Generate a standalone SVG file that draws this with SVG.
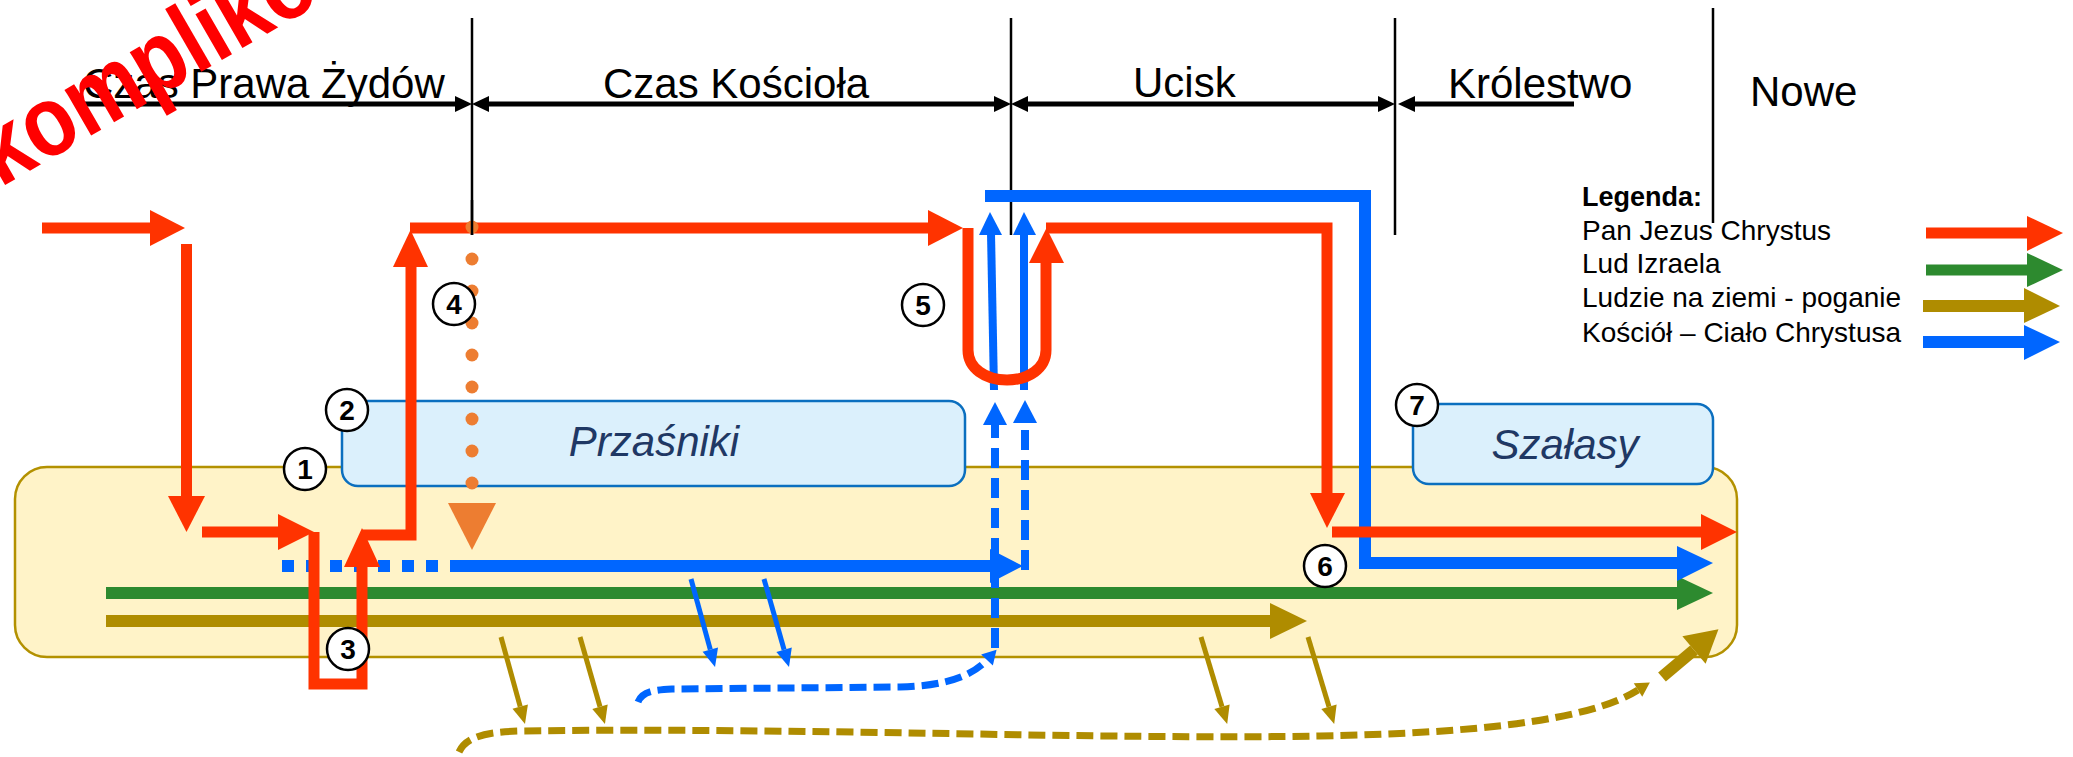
<svg xmlns="http://www.w3.org/2000/svg" width="2073" height="757" viewBox="0 0 2073 757">
<style>
  text { font-family: "Liberation Sans", Arial, sans-serif; }
  .hdr { font-size: 42px; fill: #000; }
  .leg { font-size: 28px; fill: #000; }
  .legb { font-size: 27px; font-weight: bold; fill: #000; }
  .box { fill: #DBF0FC; stroke: #0B6FBF; stroke-width: 2.5; }
  .boxlbl { font-size: 42px; font-style: italic; fill: #1F3864; text-anchor: middle; }
  .num circle { fill: #fff; stroke: #000; stroke-width: 2.5; }
  .num text { font-size: 28px; font-weight: bold; text-anchor: middle; fill: #000; }
  .tl { stroke: #000; stroke-width: 5; fill: none; }
  .vl { stroke: #000; stroke-width: 2.5; fill: none; }
  .red { stroke: #FF3300; stroke-width: 11; fill: none; }
  .redf { fill: #FF3300; }
  .blue { stroke: #0066FF; stroke-width: 12; fill: none; }
  .bluet { stroke: #0066FF; stroke-width: 8; fill: none; }
  .bluef { fill: #0066FF; }
  .green { stroke: #2D8A2F; stroke-width: 12; fill: none; }
  .greenf { fill: #2D8A2F; }
  .olive { stroke: #AF8C00; stroke-width: 12; fill: none; }
  .olivef { fill: #AF8C00; }
  .dot { fill: #ED7D31; }
</style>
<defs>
  <marker id="hBlue" markerUnits="userSpaceOnUse" markerWidth="18" markerHeight="16" viewBox="0 -8 18 16" refX="0" refY="0" orient="auto" overflow="visible">
    <path d="M0,-8 L18,0 L0,8 z" fill="#0066FF"/>
  </marker>
  <marker id="hOlive" markerUnits="userSpaceOnUse" markerWidth="18" markerHeight="16" viewBox="0 -8 18 16" refX="0" refY="0" orient="auto" overflow="visible">
    <path d="M0,-8 L18,0 L0,8 z" fill="#AF8C00"/>
  </marker>
  <marker id="hBlueS" markerUnits="userSpaceOnUse" markerWidth="14" markerHeight="16" viewBox="0 -8 14 16" refX="0" refY="0" orient="auto" overflow="visible">
    <path d="M0,-8 L14,0 L0,8 z" fill="#0066FF"/>
  </marker>
  <marker id="hOliveS" markerUnits="userSpaceOnUse" markerWidth="14" markerHeight="16" viewBox="0 -8 14 16" refX="0" refY="0" orient="auto" overflow="visible">
    <path d="M0,-8 L14,0 L0,8 z" fill="#AF8C00"/>
  </marker>
  <marker id="hOliveL" markerUnits="userSpaceOnUse" markerWidth="32" markerHeight="36" viewBox="0 -18 32 36" refX="0" refY="0" orient="auto" overflow="visible">
    <path d="M0,-18 L32,0 L0,18 z" fill="#AF8C00"/>
  </marker>
</defs>

<!-- background region: people on earth -->
<g id="earth">
  <rect x="15" y="467" width="1722" height="190" rx="32" ry="32" fill="#FFF3C8" stroke="#B39100" stroke-width="2.5"/>
</g>

<g id="przasniki">
  <rect class="box" x="342" y="401" width="623" height="85" rx="16" ry="16"/>
  <text class="boxlbl" x="654" y="456">Przaśniki</text>
</g>
<g id="szalasy">
  <rect class="box" x="1413" y="404" width="300" height="80" rx="16" ry="16"/>
  <text class="boxlbl" x="1565" y="459">Szałasy</text>
</g>

<!-- timeline -->
<g id="timeline">
  <line class="vl" x1="472" y1="18" x2="472" y2="235"/>
  <line class="vl" x1="1011" y1="18" x2="1011" y2="235"/>
  <line class="vl" x1="1395" y1="18" x2="1395" y2="235"/>
  <line class="vl" x1="1713" y1="8" x2="1713" y2="223"/>
  <line class="tl" x1="78" y1="104" x2="457" y2="104"/>
  <polygon points="455,96 472,104 455,112"/>
  <line class="tl" x1="487" y1="104" x2="996" y2="104"/>
  <polygon points="489,96 472,104 489,112"/>
  <polygon points="994,96 1011,104 994,112"/>
  <line class="tl" x1="1026" y1="104" x2="1380" y2="104"/>
  <polygon points="1028,96 1011,104 1028,112"/>
  <polygon points="1378,96 1395,104 1378,112"/>
  <line class="tl" x1="1412" y1="104" x2="1574" y2="104"/>
  <polygon points="1415,96 1398,104 1415,112"/>
  <text class="hdr" x="83" y="98">Czas Prawa Żydów</text>
  <text class="hdr" x="603" y="98">Czas Kościoła</text>
  <text class="hdr" x="1133" y="97">Ucisk</text>
  <text class="hdr" x="1448" y="98">Królestwo</text>
  <text class="hdr" x="1750" y="106">Nowe</text>
</g>

<g id="connectors">
  <!-- Israel -->
  <line class="green" x1="106" y1="593" x2="1679" y2="593"/>
  <polygon class="greenf" points="1677,576 1713,593 1677,610"/>
  <!-- gentiles -->
  <line class="olive" x1="106" y1="621" x2="1272" y2="621"/>
  <polygon class="olivef" points="1270,603 1307,621 1270,639"/>

  <!-- church -->
  <line class="blue" x1="282" y1="566" x2="438" y2="566" stroke-dasharray="12 12"/>
  <line class="blue" x1="450" y1="566" x2="992" y2="566"/>
  <polygon class="bluef" points="990,549 1023,566 990,583"/>
  <path class="bluet" d="M995,648 V425" stroke-dasharray="20 10"/>
  <polygon class="bluef" points="983,425 1007,425 995,402"/>
  <path class="bluet" d="M1025,570 V423" stroke-dasharray="20 10"/>
  <polygon class="bluef" points="1013,423 1037,423 1025,400"/>
  <line class="bluet" x1="994" y1="390" x2="991" y2="233"/>
  <polygon class="bluef" points="979,235 1002,235 990,212"/>
  <line class="bluet" x1="1024" y1="390" x2="1024" y2="233"/>
  <polygon class="bluef" points="1013,235 1036,235 1024,212"/>
  <path class="blue" d="M985,196 H1365 V563 H1679" stroke-linejoin="miter"/>
  <polygon class="bluef" points="1677,546 1713,563 1677,581"/>
  <line x1="691" y1="579" x2="710.3" y2="649.6" stroke="#0066FF" stroke-width="5" marker-end="url(#hBlue)"/>
  <line x1="764" y1="579" x2="784.1" y2="649.7" stroke="#0066FF" stroke-width="5" marker-end="url(#hBlue)"/>
  <path d="M638,702 C642,692 652,690 672,689 L900,687 C945,686 972,676 987,660" fill="none" stroke="#0066FF" stroke-width="7" stroke-dasharray="17 7" marker-end="url(#hBlueS)"/>

  <!-- gentiles scattered -->
  <line x1="501" y1="637" x2="520.2" y2="706.6" stroke="#AF8C00" stroke-width="5" marker-end="url(#hOlive)"/>
  <line x1="580" y1="637" x2="600" y2="706.7" stroke="#AF8C00" stroke-width="5" marker-end="url(#hOlive)"/>
  <line x1="1201" y1="637" x2="1222" y2="706.7" stroke="#AF8C00" stroke-width="5" marker-end="url(#hOlive)"/>
  <line x1="1308" y1="637" x2="1329" y2="706.7" stroke="#AF8C00" stroke-width="5" marker-end="url(#hOlive)"/>
  <path d="M459,752 C466,737 485,732 520,731 C800,727 1100,740 1320,736 C1480,733 1590,720 1638,690" fill="none" stroke="#AF8C00" stroke-width="7" stroke-dasharray="17 7" marker-end="url(#hOliveS)"/>
  <line x1="1662" y1="677" x2="1694" y2="650" stroke="#AF8C00" stroke-width="12" marker-end="url(#hOliveL)"/>

  <!-- Jesus -->
  <line class="red" x1="42" y1="228" x2="152" y2="228"/>
  <polygon class="redf" points="150,210 185,228 150,246"/>
  <line class="red" x1="186.5" y1="244" x2="186.5" y2="498"/>
  <polygon class="redf" points="168,496 205,496 186.5,532"/>
  <line class="red" x1="202" y1="532" x2="280" y2="532"/>
  <polygon class="redf" points="278,514 314,532 278,550"/>
  <path class="red" d="M314,532 V684 H362 V565"/>
  <polygon class="redf" points="344,567 380,567 362,528"/>
  <path class="red" d="M362,535 H411 V265"/>
  <polygon class="redf" points="393,267 428,267 410.5,230"/>
  <line class="red" x1="410" y1="228" x2="930" y2="228"/>
  <!-- dotted line of grace (4) -->
  <g id="dots">
    <circle class="dot" cx="472" cy="227" r="6.5"/>
    <circle class="dot" cx="472" cy="259" r="6.5"/>
    <circle class="dot" cx="472" cy="291" r="6.5"/>
    <circle class="dot" cx="472" cy="323" r="6.5"/>
    <circle class="dot" cx="472" cy="355" r="6.5"/>
    <circle class="dot" cx="472" cy="387" r="6.5"/>
    <circle class="dot" cx="472" cy="419" r="6.5"/>
    <circle class="dot" cx="472" cy="451" r="6.5"/>
    <circle class="dot" cx="472" cy="483" r="6.5"/>
    <polygon class="dot" points="448,503 496,503 472,550"/>
  </g>
  <polygon class="redf" points="928,210 963,228 928,246"/>
  <path class="red" d="M968,228 V350 C968,368 985,380 1007,380 C1029,380 1046,368 1046,350 V261"/>
  <polygon class="redf" points="1029,263 1064,263 1046.5,228"/>
  <path class="red" d="M1046,228 H1327 V495"/>
  <polygon class="redf" points="1310,493 1345,493 1327,528"/>
  <line class="red" x1="1332" y1="532" x2="1703" y2="532"/>
  <polygon class="redf" points="1701,514 1737,532 1701,550"/>
</g>
<line class="vl" x1="472" y1="200" x2="472" y2="235"/>

<g id="n1" class="num"><circle cx="305" cy="469" r="21"/><text x="305" y="479">1</text></g>
<g id="n2" class="num"><circle cx="347" cy="410" r="21"/><text x="347" y="420">2</text></g>
<g id="n3" class="num"><circle cx="348" cy="649" r="21"/><text x="348" y="659">3</text></g>
<g id="n4" class="num"><circle cx="454" cy="304" r="21"/><text x="454" y="314">4</text></g>
<g id="n5" class="num"><circle cx="923" cy="305" r="21"/><text x="923" y="315">5</text></g>
<g id="n6" class="num"><circle cx="1325" cy="566" r="21"/><text x="1325" y="576">6</text></g>
<g id="n7" class="num"><circle cx="1417" cy="405" r="21"/><text x="1417" y="415">7</text></g>

<g id="legend">
  <text class="legb" x="1582" y="206">Legenda:</text>
  <text class="leg" x="1582" y="240">Pan Jezus Chrystus</text>
  <text class="leg" x="1582" y="273">Lud Izraela</text>
  <text class="leg" x="1582" y="307">Ludzie na ziemi - poganie</text>
  <text class="leg" x="1582" y="342">Kościół – Ciało Chrystusa</text>
  <line x1="1926" y1="233" x2="2029" y2="233" stroke="#FF3300" stroke-width="11"/>
  <polygon class="redf" points="2027,216 2063,233 2027,251"/>
  <line x1="1926" y1="270" x2="2029" y2="270" stroke="#2D8A2F" stroke-width="11"/>
  <polygon class="greenf" points="2027,253 2063,270 2027,287"/>
  <line x1="1923" y1="306" x2="2026" y2="306" stroke="#AF8C00" stroke-width="12"/>
  <polygon class="olivef" points="2024,288 2060,306 2024,323"/>
  <line x1="1923" y1="342" x2="2026" y2="342" stroke="#0066FF" stroke-width="12"/>
  <polygon class="bluef" points="2024,325 2060,342 2024,360"/>
</g>

<g id="stamp">
  <text x="0" y="0" transform="translate(0,188) rotate(-30)" font-family="Liberation Sans, Arial, sans-serif" font-size="100" font-weight="bold" fill="#FF0000" textLength="373" lengthAdjust="spacingAndGlyphs">kompliko</text>
</g>
</svg>
